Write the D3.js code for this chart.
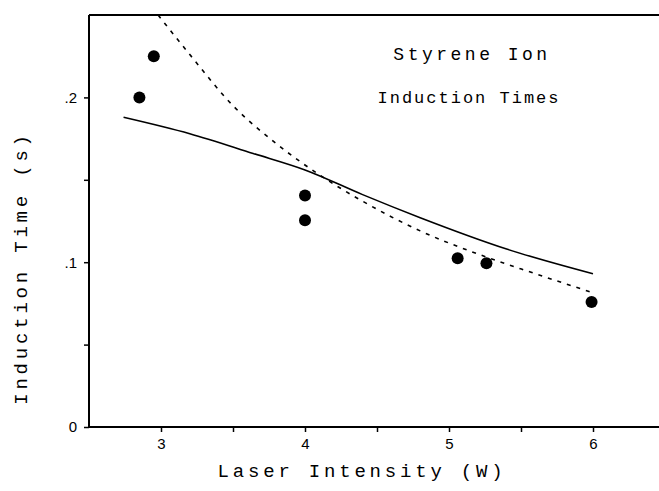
<!DOCTYPE html>
<html>
<head>
<meta charset="utf-8">
<script src="https://cdn.jsdelivr.net/npm/d3@7"></script>
<style>
  body { margin: 0; background: #fff; }
  svg { display: block; }
</style>
</head>
<body>
<svg id="chart" width="659" height="491"></svg>
<script>
// measured points
const laserW = [2.85, 2.95, 4.0, 4.0, 5.06, 5.26, 5.99];
const inductionT = [0.200, 0.225, 0.1405, 0.1255, 0.1024, 0.0994, 0.0758];

// solid fit curve
const solidX = [2.74, 3.2, 3.64, 4.0, 4.4, 4.8, 5.4, 6.0];
const solidY = [0.188, 0.178, 0.166, 0.156, 0.141, 0.127, 0.108, 0.093];

// dashed fit curve
const dashX = [2.98, 3.2, 3.5, 3.8, 4.1, 4.4, 4.8, 5.2, 5.6, 5.98];
const dashY = [0.25, 0.226, 0.195, 0.172, 0.153, 0.137, 0.119, 0.105, 0.093, 0.082];

const xTicks = [3, 4, 5, 6];
const xMinor = [3.5, 4.5, 5.5];
const yTicks = [0, 0.1, 0.2];
const yMinor = [0.05, 0.15];
const yTickLabels = ["0", ".1", ".2"];

const svg = d3.select("#chart");
const mLeft = 89, mTop = 15, mBottom = 427, mRight = 665;

const x = d3.scaleLinear().domain([2.5, 6.5]).range([mLeft, mRight]);
const y = d3.scaleLinear().domain([0, 0.25]).range([mBottom, mTop]);

const mono = "'Liberation Mono', 'DejaVu Sans Mono', monospace";
const sans = "'Liberation Sans', Arial, sans-serif";

// axes
const xAxis = d3.axisBottom(x).tickValues(xTicks.concat(xMinor))
    .tickSize(5).tickPadding(6)
    .tickFormat(d => xTicks.includes(d) ? d3.format("d")(d) : "");
const gx = svg.append("g").attr("transform", `translate(0,${mBottom})`).call(xAxis);

const yAxis = d3.axisLeft(y).tickValues(yTicks.concat(yMinor))
    .tickSize(5).tickPadding(7)
    .tickFormat(d => {
        const i = yTicks.indexOf(d);
        return i >= 0 ? yTickLabels[i] : "";
    });
const gy = svg.append("g").attr("transform", `translate(${mLeft},0)`).call(yAxis);

[gx, gy].forEach(g => {
    g.select(".domain").attr("stroke", "#000").attr("stroke-width", 2);
    g.selectAll(".tick line").attr("stroke", "#000").attr("stroke-width", 1.5);
    g.selectAll(".tick text").attr("font-family", sans).attr("font-size", 15).attr("fill", "#000");
});
gx.select(".domain").attr("d", `M${mLeft},0H${mRight}`);
gy.select(".domain").attr("d", `M0,${mBottom}V${mTop}`);

// top frame line
svg.append("line")
    .attr("x1", mLeft).attr("x2", mRight)
    .attr("y1", mTop).attr("y2", mTop)
    .attr("stroke", "#000").attr("stroke-width", 2);

// curves
const line = d3.line().x(d => x(d[0])).y(d => y(d[1])).curve(d3.curveMonotoneX);

svg.append("path")
    .datum(solidX.map((v, i) => [v, solidY[i]]))
    .attr("d", line)
    .attr("fill", "none")
    .attr("stroke", "#000")
    .attr("stroke-width", 1.6);

svg.append("path")
    .datum(dashX.map((v, i) => [v, dashY[i]]))
    .attr("d", line)
    .attr("fill", "none")
    .attr("stroke", "#000")
    .attr("stroke-width", 1.6)
    .attr("stroke-dasharray", "4,6");

// points
svg.append("g")
    .selectAll("circle")
    .data(laserW.map((v, i) => [v, inductionT[i]]))
    .join("circle")
    .attr("cx", d => x(d[0]))
    .attr("cy", d => y(d[1]))
    .attr("r", 6)
    .attr("fill", "#000");

// labels
svg.append("text")
    .attr("x", 472).attr("y", 60)
    .attr("text-anchor", "middle")
    .attr("font-family", mono).attr("font-size", 18)
    .attr("letter-spacing", 3.5)
    .text("Styrene Ion");

svg.append("text")
    .attr("x", 469).attr("y", 103)
    .attr("text-anchor", "middle")
    .attr("font-family", mono).attr("font-size", 17)
    .attr("letter-spacing", 2)
    .text("Induction Times");

svg.append("text")
    .attr("x", 362).attr("y", 477)
    .attr("text-anchor", "middle")
    .attr("font-family", mono).attr("font-size", 19)
    .attr("letter-spacing", 3.8)
    .text("Laser Intensity (W)");

svg.append("text")
    .attr("transform", "translate(27,268) rotate(-90)")
    .attr("text-anchor", "middle")
    .attr("font-family", mono).attr("font-size", 19)
    .attr("letter-spacing", 3.8)
    .text("Induction Time (s)");
</script>
</body>
</html>
